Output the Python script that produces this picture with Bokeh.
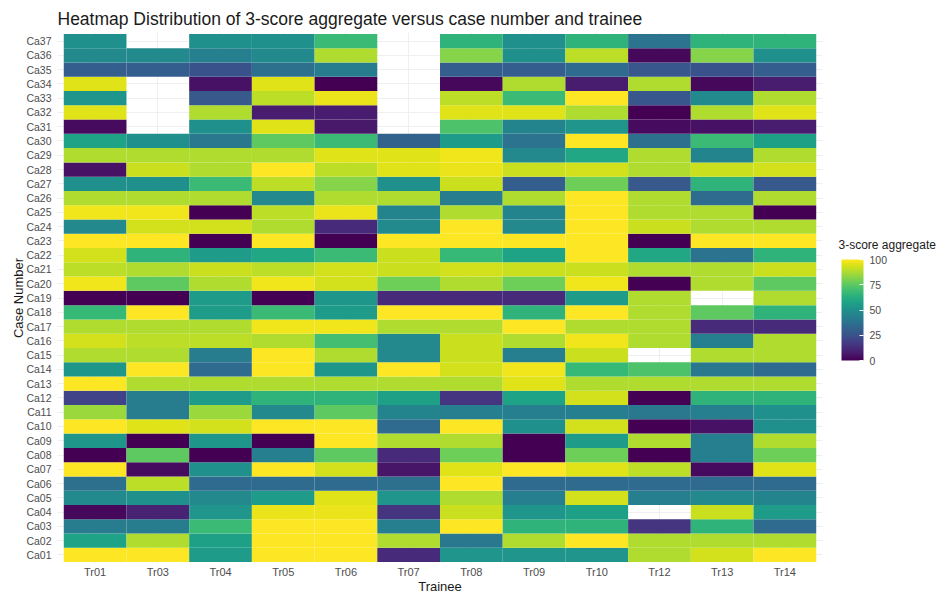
from bokeh.plotting import figure
from bokeh.layouts import row
from bokeh.models import (ColumnDataSource, LinearColorMapper, ColorBar,
                          FixedTicker, FactorRange, Label)
from bokeh.palettes import Viridis256
from bokeh.transform import transform
from bokeh.embed import file_html
from bokeh.resources import INLINE

# Trainees along the x axis, cases Ca01..Ca37 up the y axis
trainees = ["Tr01", "Tr03", "Tr04", "Tr05", "Tr06", "Tr07",
            "Tr08", "Tr09", "Tr10", "Tr12", "Tr13", "Tr14"]
cases = ["Ca%02d" % i for i in range(1, 38)]

# 3-score aggregate per trainee, listed Ca01 -> Ca37 (None = case not scored)
tr01 = [100, 58, 42, 2, 48, 37, 100, 0, 53, 100, 85, 20, 100, 53, 88, 93, 88, 67, 0,
        98, 90, 93, 100, 47, 98, 88, 50, 5, 88, 58, 3, 95, 52, 95, 30, 48, 50]
tr03 = [100, 88, 42, 10, 50, 90, 3, 75, 0, 95, 42, 42, 88, 100, 88, 90, 88, 100, 0,
        75, 88, 65, 100, 93, 98, 88, 50, 92, 88, 50, None, None, None, None, 30, 48, None]
tr04 = [55, 57, 68, 52, 47, 35, 50, 0, 53, 93, 85, 55, 88, 35, 42, 90, 88, 55, 55,
        88, 92, 55, 0, 93, 0, 88, 68, 88, 88, 40, 50, 88, 28, 5, 25, 43, 50]
tr05 = [100, 100, 100, 97, 55, 35, 100, 43, 0, 100, 47, 65, 88, 100, 100, 88, 98, 68, 0,
        98, 90, 60, 100, 88, 90, 47, 90, 100, 88, 75, 95, 8, 90, 95, 37, 48, 50]
tr06 = [100, 100, 100, 97, 95, 35, 93, 75, 100, 100, 75, 65, 88, 53, 88, 70, 98, 55, 53,
        93, 93, 68, 0, 12, 97, 88, 82, 90, 95, 68, 7, 8, 97, 0, 42, 88, 68]
tr07 = [12, 88, 43, 15, 52, 37, 6, 12, 88, 35, 45, 57, 88, 100, 47, 47, 88, 100, 12,
        78, 92, 92, 100, 48, 45, 88, 50, 95, 95, 32, None, None, None, None, None, None, None]
tr08 = [52, 40, 100, 92, 88, 100, 95, 78, 88, 100, 43, 15, 88, 93, 92, 92, 88, 100, 12,
        88, 93, 67, 100, 100, 88, 42, 92, 97, 98, 55, 72, 95, 90, 2, 30, 82, 65]
tr09 = [52, 88, 65, 52, 43, 35, 100, 0, 0, 50, 43, 58, 95, 98, 43, 88, 100, 65, 12,
        78, 92, 58, 100, 47, 45, 88, 30, 92, 47, 38, 45, 95, 68, 88, 30, 50, 50]
tr10 = [52, 100, 65, 57, 93, 35, 95, 78, 55, 93, 43, 93, 88, 67, 92, 98, 88, 100, 55,
        98, 92, 100, 100, 100, 100, 100, 78, 93, 60, 100, 52, 88, 100, 8, 35, 90, 65]
tr12 = [88, 88, 15, None, 43, 35, 90, 0, 88, 0, 40, 0, 88, 72, None, 88, 88, 88, 88,
        0, 88, 60, 0, 92, 88, 88, 28, 88, 88, 37, 3, 0, 27, 88, 27, 2, 38]
tr13 = [93, 88, 65, 92, 47, 35, 3, 43, 43, 5, 43, 65, 88, 40, 88, 43, 12, 75, None,
        88, 88, 38, 100, 88, 88, 35, 65, 92, 45, 68, 5, 88, 48, 2, 25, 82, 65]
tr14 = [100, 88, 35, 55, 45, 35, 95, 78, 88, 50, 50, 65, 88, 35, 88, 88, 12, 65, 88,
        75, 92, 65, 100, 88, 0, 88, 28, 93, 88, 57, 8, 95, 88, 8, 30, 50, 65]

scores_by_trainee = [tr01, tr03, tr04, tr05, tr06, tr07,
                     tr08, tr09, tr10, tr12, tr13, tr14]

legend_ticks = [0, 25, 50, 75, 100]

# long-form table of the scored cells only
xs, ys, vals = [], [], []
for trainee, scores in zip(trainees, scores_by_trainee):
    for case, score in zip(cases, scores):
        if score is None:
            continue
        xs.append(trainee)
        ys.append(case)
        vals.append(score)
source = ColumnDataSource(dict(trainee=xs, case=ys, score=vals))

mapper = LinearColorMapper(palette=Viridis256, low=0, high=100)

FONT = "Liberation Sans"
TEXT_DARK = "#1a1a1a"
TEXT_GREY = "#4d4d4d"

# ---- heatmap panel ----
p = figure(
    width=830, height=596,
    x_range=FactorRange(factors=trainees, range_padding=0.1,
                        range_padding_units="absolute"),
    y_range=FactorRange(factors=cases, range_padding=0.1,
                        range_padding_units="absolute"),
    output_backend="svg", toolbar_location=None,
    min_border_left=57, min_border_right=8,
    min_border_top=32, min_border_bottom=32,
    title="Heatmap Distribution of 3-score aggregate versus case number and trainee",
)

p.rect(x="trainee", y="case", width=1, height=1, source=source,
       fill_color=transform("score", mapper), line_color=None)

p.outline_line_color = None
p.background_fill_color = "white"
p.border_fill_color = "white"

p.title.text_font = FONT
p.title.text_font_size = "17.5px"
p.title.text_font_style = "normal"
p.title.text_color = TEXT_DARK
p.title.standoff = 8
p.title.offset = 0

for grid in (p.xgrid, p.ygrid):
    grid.grid_line_color = "#ebebeb"
    grid.grid_line_width = 0.8

for axis in (p.xaxis, p.yaxis):
    axis.axis_line_color = None
    axis.major_tick_line_color = None
    axis.minor_tick_line_color = None
    axis.major_tick_in = 0
    axis.major_tick_out = 0
    axis.major_label_text_font = FONT
    axis.major_label_text_color = TEXT_GREY
    axis.axis_label_text_font = FONT
    axis.axis_label_text_font_style = "normal"
    axis.axis_label_text_color = TEXT_DARK
    axis.axis_label_text_font_size = "13px"

p.xaxis.axis_label = "Trainee"
p.xaxis.major_label_text_font_size = "11px"
p.xaxis.major_label_standoff = 2
p.xaxis.axis_label_standoff = -2
p.yaxis.axis_label = "Case Number"
p.yaxis.major_label_text_font_size = "10.5px"
p.yaxis.major_label_standoff = 6
p.yaxis.axis_label_standoff = -3

# ---- legend panel holding the colour bar (its frame lines up with the heatmap's) ----
FRAME_BOTTOM = 562  # approximate canvas y of the shared frame bottom

leg = figure(width=117, height=596, output_backend="svg",
             toolbar_location=None, min_border=0)
leg.axis.visible = False
leg.grid.visible = False
leg.outline_line_color = None
leg.background_fill_color = "white"
leg.border_fill_color = "white"

leg.add_layout(Label(x=8, y=FRAME_BOTTOM - 243, x_units="screen", y_units="screen",
                     text="3-score aggregate", text_align="left",
                     text_baseline="middle", text_font=FONT,
                     text_font_size="12px", text_color=TEXT_DARK))

color_bar = ColorBar(
    color_mapper=mapper,
    ticker=FixedTicker(ticks=legend_ticks),
    width=22, height=101,
    major_label_text_font=FONT, major_label_text_font_size="10.5px",
    major_label_text_color=TEXT_GREY,
    major_tick_line_color="white", major_tick_in=4, major_tick_out=0,
    minor_tick_line_color=None, bar_line_color=None,
    background_fill_color=None, border_line_color=None,
    padding=0, label_standoff=6,
    location=(11, FRAME_BOTTOM - 359),
)
leg.add_layout(color_bar)

layout = row(p, leg, spacing=0)

open("out.html", "w").write(file_html(layout, INLINE))
